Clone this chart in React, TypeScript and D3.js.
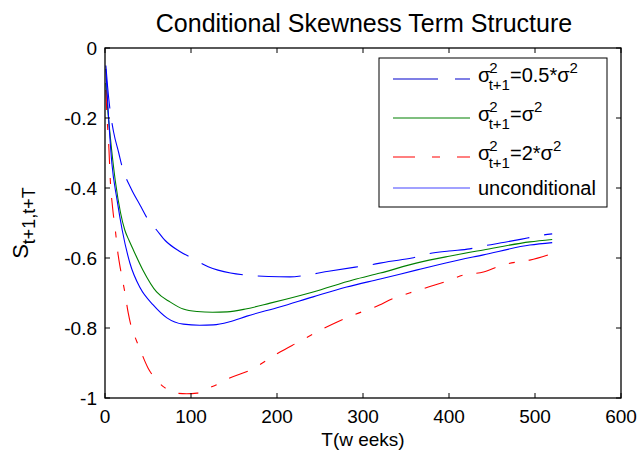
import React from "react";
import * as d3 from "d3";

// ---- data ----
const halfT = [1, 3, 6, 10, 16, 20, 30, 41, 50, 60, 70, 86, 101, 120, 146, 165, 190, 215, 234, 260, 291, 308, 330, 357, 374, 400, 424, 441, 465, 491, 508, 520];
const halfS = [-0.05, -0.11, -0.18, -0.24, -0.3, -0.34, -0.4, -0.45, -0.49, -0.52, -0.55, -0.58, -0.6, -0.625, -0.643, -0.649, -0.653, -0.654, -0.649, -0.638, -0.626, -0.62, -0.61, -0.6, -0.589, -0.58, -0.574, -0.565, -0.555, -0.543, -0.535, -0.531];

const eqT = [1, 3, 6, 12, 18, 23, 28, 33, 44, 60, 76, 91, 107, 125, 142, 165, 192, 242, 289, 320, 363, 400, 440, 494, 520];
const eqS = [-0.1, -0.17, -0.25, -0.38, -0.47, -0.52, -0.55, -0.577, -0.634, -0.697, -0.726, -0.746, -0.753, -0.755, -0.754, -0.745, -0.729, -0.697, -0.662, -0.643, -0.614, -0.595, -0.577, -0.554, -0.547];

const dblT = [1, 2, 4.6, 6, 9, 12, 15, 18.6, 23, 27, 31, 34, 41, 50, 62, 67, 75, 83, 95, 107, 122, 129, 145, 169, 203, 225, 253, 270, 292, 314, 337, 354, 376, 401, 416, 440, 462, 480, 494, 517];
const dblS = [-0.12, -0.18, -0.29, -0.37, -0.46, -0.52, -0.586, -0.64, -0.697, -0.757, -0.8, -0.82, -0.863, -0.914, -0.954, -0.966, -0.978, -0.986, -0.988, -0.986, -0.97, -0.963, -0.943, -0.92, -0.869, -0.84, -0.803, -0.783, -0.76, -0.74, -0.714, -0.7, -0.683, -0.663, -0.649, -0.64, -0.62, -0.611, -0.606, -0.59];

const uncT = [1, 3, 8, 14, 20, 29, 41, 56, 72, 91, 110, 126, 145, 165, 203, 242, 281, 320, 363, 400, 440, 494, 520];
const uncS = [-0.06, -0.15, -0.33, -0.434, -0.52, -0.615, -0.686, -0.734, -0.771, -0.789, -0.792, -0.791, -0.782, -0.766, -0.74, -0.711, -0.683, -0.66, -0.634, -0.612, -0.591, -0.563, -0.556];

const xTicks = [0, 100, 200, 300, 400, 500, 600];
const yTicks = [0, -0.2, -0.4, -0.6, -0.8, -1];
const yTickLabels = ["0", "-0.2", "-0.4", "-0.6", "-0.8", "-1"];

const W = 639;
const H = 458;
const L = 105, R = 621, T = 48, B = 398;
const FONT = "'Liberation Sans', Arial, Helvetica, sans-serif";

export default function App() {
  const x = d3.scaleLinear().domain([0, 600]).range([L, R]);
  const y = d3.scaleLinear().domain([-1, 0]).range([B, T]);
  const line = d3
    .line<[number, number]>()
    .x((d) => x(d[0]))
    .y((d) => y(d[1]))
    .curve(d3.curveMonotoneX);

  const zip = (a: number[], b: number[]) => a.map((v, i) => [v, b[i]] as [number, number]);

  const series = [
    { pts: zip(halfT, halfS), color: "#0000ff", dash: "43,15" },
    { pts: zip(eqT, eqS), color: "#008000", dash: "none" },
    { pts: zip(dblT, dblS), color: "#ff0000", dash: "20,14,6,14" },
    { pts: zip(uncT, uncS), color: "#0000ff", dash: "none" },
  ];

  const legendRows = [
    { y: 79, color: "#0000cc", dash: "45,17", kind: "half" },
    { y: 118, color: "#008000", dash: "none", kind: "eq" },
    { y: 157, color: "#ff0000", dash: "22,17,8,17", kind: "dbl" },
    { y: 188, color: "#4444ff", dash: "none", kind: "unc" },
  ];

  const sigmaLabel = (rest: React.ReactNode) => (
    <>
      <tspan>σ</tspan>
      <tspan dx="-1" dy="-9" fontSize="15">2</tspan>
      <tspan dx="-9" dy="17" fontSize="15">t+1</tspan>
      <tspan dy="-8">{rest}</tspan>
    </>
  );

  return (
    <svg
      width={W}
      height={H}
      style={{ position: "absolute", left: 0, top: 0, background: "#fff" }}
      fontFamily={FONT}
    >
      <rect x={0} y={0} width={W} height={H} fill="#fff" />
      {/* title */}
      <text x={(L + R) / 2 + 1} y={32} textAnchor="middle" fontSize={25}>
        Conditional Skewness Term Structure
      </text>

      {/* lines */}
      <g fill="none" strokeWidth={1.1}>
        {series.map((s, i) => (
          <path key={i} d={line(s.pts) || ""} stroke={s.color} strokeDasharray={s.dash} />
        ))}
      </g>

      {/* axes box */}
      <rect x={L} y={T} width={R - L} height={B - T} fill="none" stroke="#000" strokeWidth={1.3} />
      {xTicks.map((t) => (
        <g key={"x" + t}>
          <line x1={x(t)} x2={x(t)} y1={B} y2={B - 5} stroke="#000" />
          <line x1={x(t)} x2={x(t)} y1={T} y2={T + 5} stroke="#000" />
          <text x={x(t)} y={B + 25} textAnchor="middle" fontSize={19}>
            {t}
          </text>
        </g>
      ))}
      {yTicks.map((t, i) => (
        <g key={"y" + t}>
          <line x1={L} x2={L + 5} y1={y(t)} y2={y(t)} stroke="#000" />
          <line x1={R} x2={R - 5} y1={y(t)} y2={y(t)} stroke="#000" />
          <text x={L - 8} y={y(t) + 7} textAnchor="end" fontSize={19}>
            {yTickLabels[i]}
          </text>
        </g>
      ))}

      {/* axis labels */}
      <text x={(L + R) / 2} y={446} textAnchor="middle" fontSize={19}>
        T(w eeks)
      </text>
      <text transform={`translate(28, ${(T + B) / 2}) rotate(-90)`} textAnchor="middle" fontSize={22}>
        <tspan>S</tspan>
        <tspan dy="7" fontSize="18">t+1,t+T</tspan>
      </text>

      {/* legend */}
      <rect x={379} y={58} width={228} height={149} fill="#fff" stroke="#000" strokeWidth={1} />
      {legendRows.map((r, i) => (
        <g key={"lg" + i}>
          <line x1={393} x2={470} y1={r.y} y2={r.y} stroke={r.color} strokeWidth={1.2} strokeDasharray={r.dash} />
          <text x={478} y={r.kind === "unc" ? r.y + 7 : r.y + 3} fontSize={20}>
            {r.kind === "half" && sigmaLabel("=0.5*σ")}
            {r.kind === "eq" && sigmaLabel("=σ")}
            {r.kind === "dbl" && sigmaLabel("=2*σ")}
            {r.kind === "unc" && "unconditional"}
            {r.kind !== "unc" && (
              <tspan dx="0" dy="-9" fontSize="15">2</tspan>
            )}
          </text>
        </g>
      ))}
    </svg>
  );
}
